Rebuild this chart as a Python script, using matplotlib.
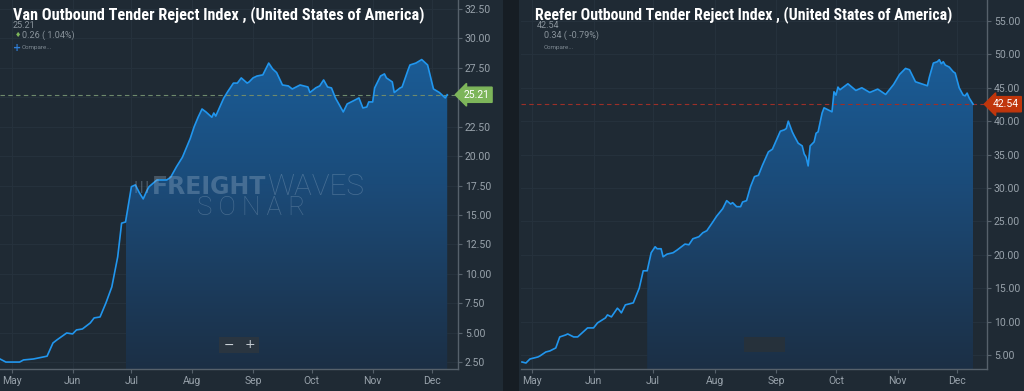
import numpy as np
import pandas as pd
import matplotlib
matplotlib.use("Agg")
import matplotlib.pyplot as plt
import matplotlib.dates as mdates
from matplotlib import font_manager
from matplotlib.colors import LinearSegmentedColormap
from matplotlib.patches import Rectangle

# --- data (2020) ---
van_dates = ["2020-04-25", "2020-04-28", "2020-05-05", "2020-05-07", "2020-05-12", "2020-05-17",
             "2020-05-19", "2020-05-22", "2020-05-24", "2020-05-29", "2020-06-01", "2020-06-03",
             "2020-06-06", "2020-06-10", "2020-06-12", "2020-06-15", "2020-06-18", "2020-06-21",
             "2020-06-24", "2020-06-26", "2020-06-28", "2020-07-01", "2020-07-03", "2020-07-05",
             "2020-07-07", "2020-07-09", "2020-07-10", "2020-07-14", "2020-07-19", "2020-07-21",
             "2020-07-24", "2020-07-27", "2020-07-31", "2020-08-02", "2020-08-04", "2020-08-06",
             "2020-08-08", "2020-08-11", "2020-08-12", "2020-08-13", "2020-08-17", "2020-08-19",
             "2020-08-22", "2020-08-24", "2020-08-26", "2020-08-29", "2020-08-30", "2020-09-01",
             "2020-09-03", "2020-09-06", "2020-09-09", "2020-09-11", "2020-09-13", "2020-09-16",
             "2020-09-19", "2020-09-21", "2020-09-25", "2020-09-29", "2020-09-30", "2020-10-03",
             "2020-10-05", "2020-10-07", "2020-10-09", "2020-10-11", "2020-10-13", "2020-10-15",
             "2020-10-17", "2020-10-19", "2020-10-22", "2020-10-25", "2020-10-27", "2020-10-29",
             "2020-10-30", "2020-11-01", "2020-11-02", "2020-11-05", "2020-11-07", "2020-11-08",
             "2020-11-11", "2020-11-12", "2020-11-15", "2020-11-16", "2020-11-19", "2020-11-20",
             "2020-11-23", "2020-11-26", "2020-11-29", "2020-12-02", "2020-12-05", "2020-12-08",
             "2020-12-09"]
van_values = [2.76, 2.5, 2.5, 2.68, 2.76, 2.93, 3.0, 4.12, 4.38, 4.97, 4.89, 5.23,
              5.31, 5.82, 6.25, 6.33, 7.52, 8.88, 11.43, 14.3, 14.4, 17.4, 17.55, 16.9,
              16.36, 17.1, 17.4, 17.97, 17.97, 18.2, 19.1, 19.9, 21.5, 22.5, 23.3, 24.0,
              23.75, 23.3, 23.66, 23.4, 24.9, 25.45, 26.2, 26.2, 26.64, 26.2, 26.3, 26.64,
              26.8, 26.9, 27.9, 27.4, 27.1, 26.04, 25.96, 25.7, 26.04, 25.87, 25.4, 25.8,
              25.96, 26.47, 25.87, 25.79, 24.94, 24.35, 23.75, 24.43, 24.68, 24.94, 24.09, 24.17,
              24.6, 24.6, 25.79, 26.8, 26.98, 26.64, 26.3, 25.4, 25.79, 25.87, 27.3, 27.74,
              27.9, 28.2, 27.74, 25.7, 25.4, 24.94, 25.21]

reefer_dates = ["2020-04-26", "2020-04-28", "2020-04-30", "2020-05-04", "2020-05-05", "2020-05-08",
                "2020-05-10", "2020-05-13", "2020-05-15", "2020-05-18", "2020-05-19", "2020-05-22",
                "2020-05-24", "2020-05-29", "2020-06-01", "2020-06-03", "2020-06-07", "2020-06-08",
                "2020-06-10", "2020-06-13", "2020-06-14", "2020-06-15", "2020-06-17", "2020-06-21",
                "2020-06-24", "2020-06-26", "2020-06-28", "2020-06-30", "2020-07-02", "2020-07-03",
                "2020-07-05", "2020-07-06", "2020-07-08", "2020-07-11", "2020-07-13", "2020-07-17",
                "2020-07-19", "2020-07-21", "2020-07-24", "2020-07-26", "2020-07-28", "2020-07-31",
                "2020-08-02", "2020-08-05", "2020-08-07", "2020-08-09", "2020-08-10", "2020-08-12",
                "2020-08-14", "2020-08-15", "2020-08-17", "2020-08-19", "2020-08-21", "2020-08-23",
                "2020-08-25", "2020-08-28", "2020-08-30", "2020-09-03", "2020-09-05", "2020-09-06",
                "2020-09-07", "2020-09-09", "2020-09-10", "2020-09-12", "2020-09-14", "2020-09-15",
                "2020-09-16", "2020-09-17", "2020-09-18", "2020-09-20", "2020-09-21", "2020-09-22",
                "2020-09-24", "2020-09-25", "2020-09-27", "2020-09-29", "2020-09-30", "2020-10-01",
                "2020-10-02", "2020-10-03", "2020-10-07", "2020-10-11", "2020-10-14", "2020-10-18",
                "2020-10-22", "2020-10-26", "2020-10-30", "2020-11-02", "2020-11-05", "2020-11-07",
                "2020-11-10", "2020-11-15", "2020-11-16", "2020-11-17", "2020-11-19", "2020-11-21",
                "2020-11-22", "2020-11-23", "2020-11-24", "2020-11-25", "2020-11-27", "2020-11-29",
                "2020-11-30", "2020-12-02", "2020-12-04", "2020-12-05", "2020-12-06", "2020-12-07",
                "2020-12-09"]
reefer_values = [3.95, 3.8, 4.4, 4.7, 4.85, 5.45, 5.6, 6.05, 7.7, 8.0, 8.15, 7.7,
                 7.7, 9.05, 9.05, 9.8, 10.55, 11.0, 10.7, 12.0, 11.7, 11.3, 12.5, 12.8,
                 15.0, 17.6, 17.6, 20.3, 21.2, 20.9, 20.9, 19.7, 20.1, 20.3, 20.7, 21.6,
                 21.5, 22.4, 22.7, 23.3, 23.6, 24.9, 25.8, 26.9, 28.1, 27.6, 27.8, 27.2,
                 27.2, 27.9, 28.1, 30.2, 31.7, 31.9, 33.4, 35.4, 35.8, 38.5, 38.7, 38.9,
                 40.0, 38.4, 37.8, 36.7, 36.3, 35.1, 34.6, 33.3, 36.3, 36.9, 38.2, 38.4,
                 41.2, 42.0, 41.7, 41.4, 44.4, 43.9, 45.1, 44.7, 45.6, 44.6, 45.0, 44.3,
                 44.8, 44.0, 45.5, 47.0, 47.9, 47.7, 45.9, 45.4, 45.3, 46.6, 48.7, 48.9,
                 49.2, 48.6, 48.9, 48.4, 48.1, 47.4, 47.2, 45.0, 43.9, 43.8, 44.2, 43.5,
                 42.54]

van_title = "Van Outbound Tender Reject Index , (United States of America)"
reefer_title = "Reefer Outbound Tender Reject Index , (United States of America)"
van_yticks = [2.5, 5, 7.5, 10, 12.5, 15, 17.5, 20, 22.5, 25, 27.5, 30, 32.5]
reefer_yticks = [5, 10, 15, 20, 25, 30, 35, 40, 45, 50, 55]

W, H = 1024, 391
PANEL = "#1f2a34"
GAP = "#161d24"
LINE = "#2196ee"
TICK = "#98a2ab"
SPINE = "#56616b"
GRID = "#26323d"
WM = "#a9bfd3"

installed = {f.name for f in font_manager.fontManager.ttflist}
title_font = next((n for n in ["Roboto Condensed", "Liberation Sans Narrow", "Roboto"]
                   if n in installed), "DejaVu Sans")
small_font = "Roboto" if "Roboto" in installed else "DejaVu Sans"

fig = plt.figure(figsize=(W / 100, H / 100), dpi=100)
fig.patch.set_facecolor(GAP)
renderer = fig.canvas.get_renderer()


def fx(px):
    return px / W


def fy(py):
    return 1 - py / H


# panel backgrounds
fig.patches.append(Rectangle((0, 0), fx(503), 1, transform=fig.transFigure, fc=PANEL, ec="none", zorder=-5))
fig.patches.append(Rectangle((fx(519), 0), 1 - fx(519), 1, transform=fig.transFigure, fc=PANEL, ec="none", zorder=-5))

grad_cmap = LinearSegmentedColormap.from_list("fill", ["#1c2f45", "#1b4b79", "#1a64a4"])


def draw_panel(ax, dates, values, xlim, ylim, yticks, hide_tick, tag_color, dash_color):
    x = mdates.date2num(pd.to_datetime(dates))
    y = np.array(values)
    ax.set_facecolor(PANEL)

    # gradient fill under the curve from Jul onward
    start = mdates.date2num(pd.Timestamp("2020-06-28"))
    m = x >= start
    poly = ax.fill_between(x[m], y[m], ylim[0], color="none", lw=0)
    grad = np.linspace(0, 1, 256).reshape(-1, 1)
    im = ax.imshow(grad, aspect="auto", cmap=grad_cmap, origin="lower",
                   extent=[x[m][0], x[m][-1], ylim[0], ylim[1]], zorder=2)
    im.set_clip_path(poly.get_paths()[0], ax.transData)

    ax.plot(x, y, color=LINE, lw=1.2, zorder=4, solid_joinstyle="round")
    ax.axhline(y[-1], color=dash_color, lw=0.8, ls=(0, (4, 3)), zorder=3)

    ax.set_xlim(mdates.date2num(pd.Timestamp(xlim[0])), mdates.date2num(pd.Timestamp(xlim[1])))
    ax.set_ylim(*ylim)
    ax.set_yticks(yticks)
    ax.yaxis.tick_right()
    ax.yaxis.set_major_formatter(matplotlib.ticker.FuncFormatter(
        lambda v, p: "" if hide_tick is not None and abs(v - hide_tick) < 1e-6 else f"{v:.2f}"))
    ax.xaxis.set_major_locator(mdates.MonthLocator())
    ax.xaxis.set_major_formatter(mdates.DateFormatter("%b"))
    ax.tick_params(colors=SPINE, labelcolor=TICK, labelsize=7.5, length=3, width=0.8, pad=2)
    for lab in ax.get_xticklabels() + ax.get_yticklabels():
        lab.set_fontfamily(small_font)
    ax.grid(True, color=GRID, lw=0.7, zorder=0)
    for s in ["top", "left"]:
        ax.spines[s].set_visible(False)
    for s in ["right", "bottom"]:
        ax.spines[s].set_color(SPINE)
        ax.spines[s].set_linewidth(1.0)

    # last value tag on the axis
    ax.text(1.012, y[-1], f"{y[-1]:.2f}", transform=ax.get_yaxis_transform(), ha="left", va="center",
            fontsize=7.5, color="white", family=small_font, clip_on=False, zorder=6,
            bbox=dict(boxstyle="larrow,pad=0.25", fc=tag_color, ec=tag_color))


ax1 = fig.add_axes([0, 1 - 369 / H, fx(458), 369 / H])
draw_panel(ax1, van_dates, van_values, ("2020-04-25", "2020-12-14 12:00"), (1.91, 33.26),
           van_yticks, 25, "#7db55a", "#6f8a6c")

ax2 = fig.add_axes([fx(521), 1 - 369 / H, fx(987) - fx(521), 369 / H])
draw_panel(ax2, reefer_dates, reefer_values, ("2020-04-25 12:00", "2020-12-16"), (2.9, 58.14),
           reefer_yticks, None, "#c0360c", "#9c2f28")

# watermark on the van chart: FREIGHT (bold) + WAVES (light), SONAR underneath
wm_font = "DejaVu Sans"
t_fr = fig.text(fx(152), fy(187), "FREIGHT", fontsize=14, fontweight="bold", family=wm_font,
                color=WM, alpha=0.3, va="center", ha="left", zorder=5)
w = t_fr.get_window_extent(renderer).width
t_fr.set_fontsize(14 * 115 / w)
w = t_fr.get_window_extent(renderer).width
t_wv = fig.text(fx(152 + w + 1), fy(187), "WAVES", fontsize=14, fontweight="light", family=small_font,
                color=WM, alpha=0.3, va="center", ha="left", zorder=5)
w2 = t_wv.get_window_extent(renderer).width
t_wv.set_fontsize(14 * 97 / w2)
t_so = fig.text(fx(251), fy(208), "S O N A R", fontsize=14, fontweight="light", family=small_font,
                color=WM, alpha=0.3, va="center", ha="center", zorder=5)
w3 = t_so.get_window_extent(renderer).width
t_so.set_fontsize(14 * 108 / w3)
fig.patches.append(Rectangle((fx(134), fy(193)), fx(14), 12 / H, transform=fig.transFigure,
                             fc="none", ec=WM, hatch="|||", lw=0, alpha=0.3, zorder=5))

# zoom buttons
fig.patches.append(Rectangle((fx(219), fy(353)), fx(40), 16 / H, transform=fig.transFigure,
                             fc="#2a3540", ec="none", zorder=5))
fig.text(fx(229), fy(345), "\u2212", color="#c9d0d6", fontsize=9, ha="center", va="center", zorder=6)
fig.text(fx(250), fy(345), "+", color="#c9d0d6", fontsize=9, ha="center", va="center", zorder=6)
fig.patches.append(Rectangle((fx(744), fy(352)), fx(41), 15 / H, transform=fig.transFigure,
                             fc="#26313b", ec="none", zorder=5))

# titles and header texts
for px, title, target in [(13, van_title, 412), (535, reefer_title, 419)]:
    t = fig.text(fx(px), fy(15), title, color="white", fontsize=13.5, fontweight="bold",
                 family=title_font, ha="left", va="center", zorder=7)
    w = t.get_window_extent(renderer).width
    if w > target * 1.05:
        t.set_fontsize(13.5 * target / w)

fig.text(fx(13), fy(26), "25.21", color="#8a949c", fontsize=6.5, family=small_font, va="center")
fig.text(fx(15), fy(35), "\u2666", color="#7db55a", fontsize=5, va="center")
fig.text(fx(22), fy(35), "0.26 ( 1.04%)", color="#8a949c", fontsize=6.5, family=small_font, va="center")
fig.text(fx(13), fy(48), "+", color="#2f7fd8", fontsize=7, fontweight="bold", va="center")
fig.text(fx(22), fy(48), "Compare...", color="#7f8a93", fontsize=4.5, family=small_font, va="center")

fig.text(fx(537), fy(26), "42.54", color="#8a949c", fontsize=6.5, family=small_font, va="center")
fig.text(fx(544), fy(35), "0.34 ( -0.79%)", color="#8a949c", fontsize=6.5, family=small_font, va="center")
fig.text(fx(544), fy(48), "Compare...", color="#7f8a93", fontsize=4.5, family=small_font, va="center")

fig.savefig("out.png", dpi=100, facecolor=fig.get_facecolor())
